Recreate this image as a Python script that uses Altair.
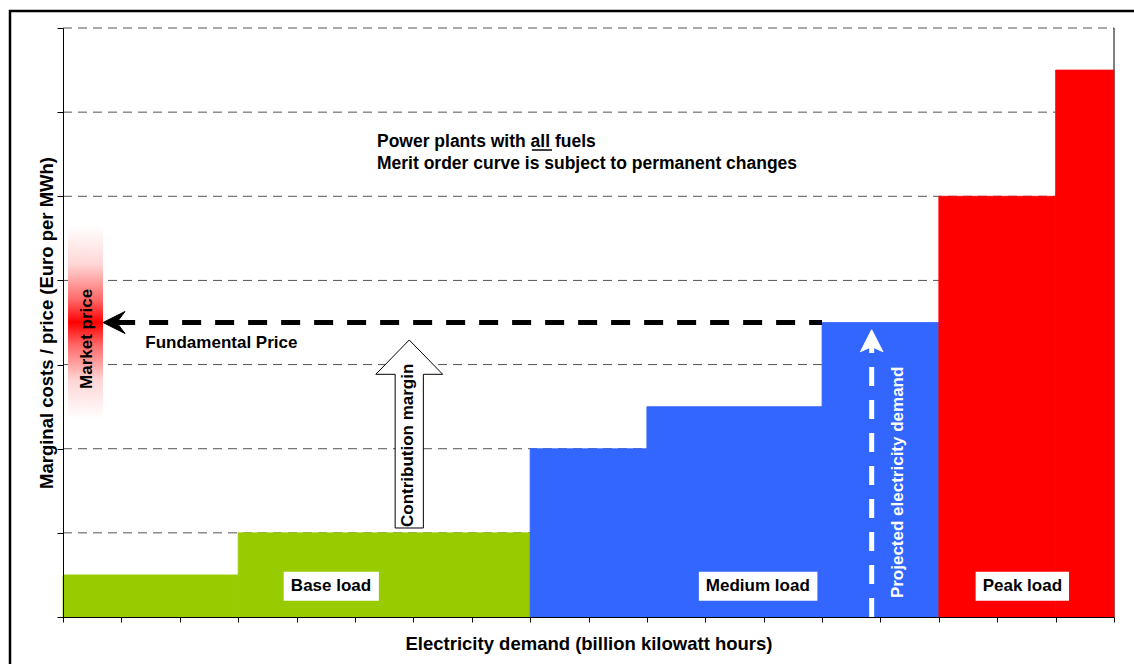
import altair as alt
import pandas as pd

# ---------------- data ----------------
x_start = [0, 3, 8, 10, 13, 15, 17]
x_end = [3, 8, 10, 13, 15, 17, 18]
marginal_cost = [10, 20, 40, 50, 70, 100, 130]
load_type = ["Base load", "Base load", "Medium load", "Medium load",
             "Medium load", "Peak load", "Peak load"]
load_names = ["Base load", "Medium load", "Peak load"]
load_colors = ["#99CC00", "#3366FF", "#FF0000"]

grid_values = [20, 40, 60, 80, 100, 120, 140]
x_tick_values = list(range(0, 19))
y_tick_values = [0, 20, 40, 60, 80, 100, 120, 140]

fundamental_price = 70
projected_demand = 13.85

label_text = ["Base load", "Medium load", "Peak load"]
label_x = [4.59, 11.9, 16.43]
label_box_x0 = [3.78, 10.89, 15.63]
label_box_x1 = [5.41, 12.92, 17.23]

title_lines = ["Power plants with all fuels",
               "Merit order curve is subject to permanent changes"]

X_TITLE = "Electricity demand (billion kilowatt hours)"
Y_TITLE = "Marginal costs / price (Euro per MWh)"
FONT = "Liberation Sans"

# ---------------- scales / axes ----------------
X_SCALE = alt.Scale(domain=[0, 18], nice=False, zero=False)
Y_SCALE = alt.Scale(domain=[0, 140], nice=False, zero=False)
X_AXIS = alt.Axis(values=x_tick_values, labels=False, grid=False, ticks=True,
                  tickSize=5, tickColor="black", domainColor="black",
                  titleFont=FONT, titleFontSize=18.5, titleFontWeight="bold",
                  titleColor="black", titlePadding=12, zindex=1)
Y_AXIS = alt.Axis(values=y_tick_values, labels=False, grid=False, ticks=True,
                  tickSize=6, tickColor="black", domainColor="black",
                  titleFont=FONT, titleFontSize=18.5, titleFontWeight="bold",
                  titleColor="black", titlePadding=0, zindex=1)


def X(f):
    return alt.X(f"{f}:Q", scale=X_SCALE, axis=X_AXIS, title=X_TITLE)


def Y(f):
    return alt.Y(f"{f}:Q", scale=Y_SCALE, axis=Y_AXIS, title=Y_TITLE)


# ---------------- layers ----------------
grid_df = pd.DataFrame({"v": grid_values, "a": 0, "b": 18})
grid = alt.Chart(grid_df).mark_rule(color="#555555", strokeDash=[9, 6],
                                    strokeWidth=1).encode(
    y=Y("v"), x=X("a"), x2=alt.X2("b"))

border_df = pd.DataFrame({"x": [18], "y0": [0], "y1": [140]})
right_border = alt.Chart(border_df).mark_rule(color="black", strokeWidth=1).encode(
    x=X("x"), y=Y("y0"), y2=alt.Y2("y1"))

bars_df = pd.DataFrame({"x0": x_start, "x1": x_end, "cost": marginal_cost,
                        "base": 0, "load": load_type})
load_scale = alt.Scale(domain=load_names, range=load_colors)
bars = alt.Chart(bars_df).mark_rect(strokeWidth=0.8).encode(
    x=X("x0"), x2=alt.X2("x1"), y=Y("cost"), y2=alt.Y2("base"),
    color=alt.Color("load:N", scale=load_scale, legend=None),
    stroke=alt.Stroke("load:N", scale=load_scale, legend=None))

box_df = pd.DataFrame({"x0": label_box_x0, "x1": label_box_x1,
                       "y0": 3.87, "y1": 10.77})
boxes = alt.Chart(box_df).mark_rect(color="white").encode(
    x=X("x0"), x2=alt.X2("x1"), y=Y("y0"), y2=alt.Y2("y1"))

lab_df = pd.DataFrame({"x": label_x, "y": 7.3, "t": label_text})
labels = alt.Chart(lab_df).mark_text(font=FONT, fontSize=17, fontWeight="bold",
                                     color="black", align="center",
                                     baseline="middle").encode(
    x=X("x"), y=Y("y"), text="t:N")

# market price gradient band
mp_df = pd.DataFrame({"x0": [0.086], "x1": [0.685], "y0": [47], "y1": [93]})
gradient = {"gradient": "linear", "x1": 0, "y1": 0, "x2": 0, "y2": 1,
            "stops": [{"offset": 0.0, "color": "#ffffff"},
                      {"offset": 0.2, "color": "#ffd6d6"},
                      {"offset": 0.38, "color": "#ff6a6a"},
                      {"offset": 0.5, "color": "#ff0000"},
                      {"offset": 0.62, "color": "#ff6a6a"},
                      {"offset": 0.8, "color": "#ffd6d6"},
                      {"offset": 1.0, "color": "#ffffff"}]}
market_band = alt.Chart(mp_df).mark_rect(fill=gradient).encode(
    x=X("x0"), x2=alt.X2("x1"), y=Y("y0"), y2=alt.Y2("y1"))

mt_df = pd.DataFrame({"x": [0.41], "y": [66.1], "t": ["Market price"]})
market_text = alt.Chart(mt_df).mark_text(font=FONT, fontSize=17, fontWeight="bold",
                                         color="black", angle=270, align="center",
                                         baseline="middle").encode(
    x=X("x"), y=Y("y"), text="t:N")

# fundamental price dashed arrow
fp_df = pd.DataFrame({"x0": [0.91], "x1": [13], "y": [fundamental_price]})
fp_line = alt.Chart(fp_df).mark_rule(color="black", strokeWidth=5,
                                     strokeDash=[19, 14]).encode(
    x=X("x0"), x2=alt.X2("x1"), y=Y("y"))

fph_df = pd.DataFrame({"x": [0.873], "y": [fundamental_price]})
fp_head = alt.Chart(fph_df).mark_point(
    shape="M -1 0 L 1 -1 L 0.25 0 L 1 1 Z", size=484, filled=True,
    fill="black", stroke="black", strokeWidth=1, opacity=1).encode(
    x=X("x"), y=Y("y"))

fpt_df = pd.DataFrame({"x": [1.41], "y": [65.2], "t": ["Fundamental Price"]})
fp_text = alt.Chart(fpt_df).mark_text(font=FONT, fontSize=17, fontWeight="bold",
                                      color="black", align="left",
                                      baseline="middle").encode(
    x=X("x"), y=Y("y"), text="t:N")

# contribution margin block arrow
cm_df = pd.DataFrame({"x": [5.93], "y": [43.5]})
cm_arrow = alt.Chart(cm_df).mark_point(
    shape=("M 0 -1 L 0.356 -0.635 L 0.15 -0.635 L 0.15 1 L -0.15 1 "
           "L -0.15 -0.635 L -0.356 -0.635 Z"),
    size=35344, filled=True, fill="white", stroke="black", strokeWidth=1,
    opacity=1).encode(x=X("x"), y=Y("y"))

cmt_df = pd.DataFrame({"x": [5.91], "y": [40.8], "t": ["Contribution margin"]})
cm_text = alt.Chart(cmt_df).mark_text(font=FONT, fontSize=17, fontWeight="bold",
                                      color="black", angle=270, align="center",
                                      baseline="middle").encode(
    x=X("x"), y=Y("y"), text="t:N")

# projected electricity demand dashed arrow
pd_df = pd.DataFrame({"x": [projected_demand], "y0": [0], "y1": [64.4]})
pd_line = alt.Chart(pd_df).mark_rule(color="white", strokeWidth=5,
                                     strokeDash=[19, 14]).encode(
    x=X("x"), y=Y("y0"), y2=alt.Y2("y1"))

pdh_df = pd.DataFrame({"x": [projected_demand], "y": [65.6]})
pd_head = alt.Chart(pdh_df).mark_point(
    shape="M 0 -1 L 1 0.95 L 0 0.5 L -1 0.95 Z", size=506, filled=True,
    fill="white", stroke="white", strokeWidth=1, opacity=1).encode(
    x=X("x"), y=Y("y"))

pdt_df = pd.DataFrame({"x": [14.3], "y": [32], "t": ["Projected electricity demand"]})
pd_text = alt.Chart(pdt_df).mark_text(font=FONT, fontSize=17, fontWeight="bold",
                                      color="white", angle=270, align="center",
                                      baseline="middle").encode(
    x=X("x"), y=Y("y"), text="t:N")

# headline text
tl_df = pd.DataFrame({"x": [5.377, 5.377], "y": [111.7, 106.4], "t": title_lines})
title_text = alt.Chart(tl_df).mark_text(font=FONT, fontSize=17.5, fontWeight="bold",
                                        color="black", align="left",
                                        baseline="alphabetic").encode(
    x=X("x"), y=Y("y"), text="t:N")

ul_df = pd.DataFrame({"x0": [8.03], "x1": [8.375], "y": [111.0]})
underline = alt.Chart(ul_df).mark_rule(color="black", strokeWidth=1.5).encode(
    x=X("x0"), x2=alt.X2("x1"), y=Y("y"))

# outer frame
frame = alt.Chart(pd.DataFrame({"k": [0]})).mark_rect(
    fill=None, stroke="black", strokeWidth=2.5).encode(
    x=alt.value(-53), x2=alt.value(1075), y=alt.value(-17), y2=alt.value(700))

chart = alt.layer(
    grid, right_border, bars, boxes, labels, market_band, market_text,
    fp_line, fp_head, fp_text, cm_arrow, cm_text, pd_line, pd_head, pd_text,
    title_text, underline, frame
).properties(
    width=1051, height=589, autosize="none",
    padding={"left": 63, "top": 28, "right": 20, "bottom": 47},
    background="white"
).configure_view(stroke=None)

chart.save("out.html", embed_options={"renderer": "svg", "actions": False})
